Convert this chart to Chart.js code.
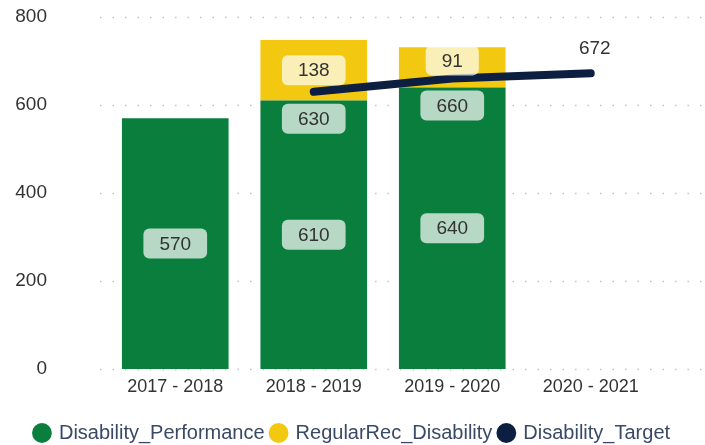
<!DOCTYPE html>
<html>
<head>
<meta charset="utf-8">
<script src="https://cdn.jsdelivr.net/npm/chart.js@4"></script>
<style>
  html, body { margin: 0; padding: 0; background: #fff; }
  #wrap { width: 705px; height: 445px; }
</style>
</head>
<body>
<div id="wrap"><canvas id="c" width="705" height="445"></canvas></div>
<script>
const years = ['2017 - 2018', '2018 - 2019', '2019 - 2020', '2020 - 2021'];
const performance = [570, 610, 640, null];
const regularRec = [null, 138, 91, null];
const target = [null, 630, 660, 672];
const yTicks = [0, 200, 400, 600, 800];

const GREEN = '#0a7e3d';
const YELLOW = '#f2c811';
const NAVY = '#0c1f40';
const FONT = '"Liberation Sans", Arial, sans-serif';

function roundBox(ctx, x, y, w, h, r) {
  ctx.beginPath();
  ctx.moveTo(x + r, y);
  ctx.arcTo(x + w, y, x + w, y + h, r);
  ctx.arcTo(x + w, y + h, x, y + h, r);
  ctx.arcTo(x, y + h, x, y, r);
  ctx.arcTo(x, y, x + w, y, r);
  ctx.closePath();
}

function label(ctx, text, cx, cy, boxed) {
  ctx.font = '19px ' + FONT;
  ctx.textAlign = 'center';
  ctx.textBaseline = 'middle';
  if (boxed) {
    const w = ctx.measureText(text).width + 32;
    roundBox(ctx, cx - w / 2, cy - 15, w, 30, 6);
    ctx.fillStyle = 'rgba(255,255,255,0.7)';
    ctx.fill();
  }
  ctx.fillStyle = '#333';
  ctx.fillText(text, cx, cy + 1);
}

// dotted grid lines, wider than the plot area like the original
const gridPlugin = {
  id: 'dotGrid',
  beforeDatasetsDraw(chart) {
    const ctx = chart.ctx, y = chart.scales.y;
    ctx.save();
    ctx.strokeStyle = '#c4c4c4';
    ctx.lineWidth = 1.5;
    ctx.setLineDash([1.5, 11]);
    yTicks.forEach(v => {
      const py = Math.round(y.getPixelForValue(v)) + 0.5;
      ctx.beginPath();
      ctx.moveTo(100, py);
      ctx.lineTo(705, py);
      ctx.stroke();
    });
    ctx.restore();
  }
};

const labelPlugin = {
  id: 'valueLabels',
  afterDatasetsDraw(chart) {
    const ctx = chart.ctx;
    ctx.save();
    [0, 1].forEach(di => {
      const meta = chart.getDatasetMeta(di);
      meta.data.forEach((bar, i) => {
        const v = chart.data.datasets[di].data[i];
        if (v == null) return;
        let cy = (bar.y + bar.base) / 2;
        if (di === 1 && i === 2) cy -= 7;
        label(ctx, String(v), bar.x, cy, true);
      });
    });
    const lm = chart.getDatasetMeta(2);
    lm.data.forEach((pt, i) => {
      const v = target[i];
      if (v == null) return;
      if (i === target.length - 1) label(ctx, String(v), pt.x + 4, pt.y - 26, false);
      else label(ctx, String(v), pt.x, pt.y + 27, true);
    });
    ctx.restore();
  }
};

new Chart(document.getElementById('c'), {
  data: {
    labels: years,
    datasets: [
      { type: 'bar', label: 'Disability_Performance', data: performance, backgroundColor: GREEN, order: 1,
        barPercentage: 0.77, categoryPercentage: 1 },
      { type: 'bar', label: 'RegularRec_Disability', data: regularRec, backgroundColor: YELLOW, order: 1,
        barPercentage: 0.77, categoryPercentage: 1 },
      { type: 'line', label: 'Disability_Target', data: target, borderColor: NAVY, backgroundColor: NAVY,
        borderWidth: 8, borderCapStyle: 'round', borderJoinStyle: 'round', pointRadius: 0, tension: 0, order: 0 }
    ]
  },
  options: {
    responsive: false,
    animation: false,
    layout: { padding: { top: 17, right: 0, left: 0, bottom: -8 } },
    plugins: {
      tooltip: { enabled: false },
      legend: {
        position: 'bottom',
        labels: {
          usePointStyle: true,
          pointStyle: 'circle',
          boxWidth: 14,
          boxHeight: 14,
          padding: 7,
          color: '#3a4a66',
          font: { family: FONT, size: 20 },
          sort: (a, b) => a.datasetIndex - b.datasetIndex,
          generateLabels(chart) {
            const items = Chart.defaults.plugins.legend.labels.generateLabels(chart);
            items.forEach(it => { it.lineWidth = 0; it.strokeStyle = 'transparent'; });
            return items;
          }
        }
      }
    },
    scales: {
      x: {
        stacked: true,
        grid: { display: false, drawTicks: false },
        border: { display: false },
        ticks: { color: '#333', padding: 7, font: { family: FONT, size: 18 } },
        afterFit(s) { s.height = 47; }
      },
      y: {
        stacked: true,
        min: 0, max: 800,
        grid: { display: false, drawTicks: false },
        border: { display: false },
        afterBuildTicks(s) { s.ticks = yTicks.map(v => ({ value: v })); },
        ticks: { color: '#333', padding: 59, font: { family: FONT, size: 19 } },
        afterFit(s) { s.width = 106; s.paddingTop = 10; s.paddingBottom = 10; }
      },
      // empty right axis, only keeps the plot area narrower than the legend
      yRight: {
        position: 'right',
        min: 0, max: 800,
        grid: { display: false, drawTicks: false },
        border: { display: false },
        ticks: { display: false },
        afterFit(s) { s.width = 45; }
      }
    }
  },
  plugins: [gridPlugin, labelPlugin]
});
</script>
</body>
</html>
